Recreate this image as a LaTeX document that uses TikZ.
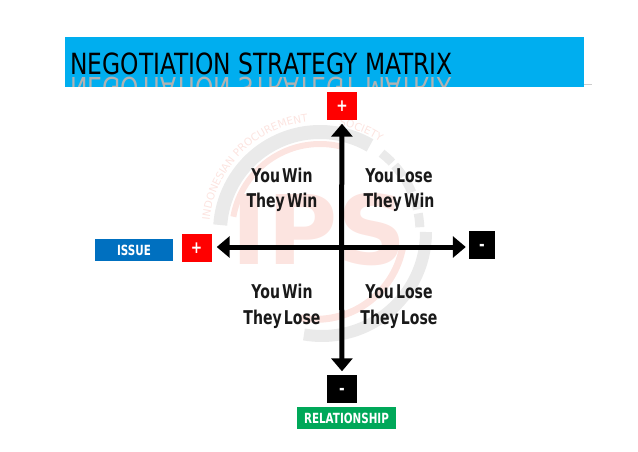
\documentclass[tikz,border=0pt]{standalone}
\usepackage{fontspec}
\usepackage{tikz}
\usetikzlibrary{arrows.meta,decorations.text}
\setmainfont{DejaVu Sans}
\definecolor{titleblue}{RGB}{0,174,239}
\definecolor{issueblue}{RGB}{0,112,192}
\definecolor{relgreen}{RGB}{0,168,89}
\definecolor{signred}{RGB}{255,0,0}
\definecolor{markgray}{RGB}{234,234,234}
\definecolor{markpink}{RGB}{252,228,224}
\newfontfamily\slim[FakeStretch=0.8]{DejaVu Sans}
\newfontfamily\tight[FakeStretch=0.74,WordSpace=0.45]{DejaVu Sans}
\begin{document}
\begin{tikzpicture}[x=1pt,y=-1pt]
      \tikzstyle{sign}=[minimum width=30pt,minimum height=28pt,inner sep=0pt,
			text=white,font=\slim\bfseries\fontsize{17}{17}\selectfont]
      \tikzstyle{minus}=[sign,fill=black,text height=11pt,text depth=0pt]
      \tikzstyle{caption}=[inner sep=0pt,text=white,
			   font=\tight\bfseries\fontsize{14}{14}\selectfont]
      \tikzstyle{quadrant}=[align=center,inner sep=0pt,text=black!90,
			    font=\tight\bfseries\fontsize{19}{25.5}\selectfont]
      \tikzstyle{axis}=[line width=5pt,-{Triangle[length=13pt,width=21pt]}]
      \useasboundingbox (0,0) rectangle (638,452);
      % watermark
      \node (markIPS) at (319,230) [inner sep=0pt,text=markpink,
	  font=\bfseries\fontsize{96}{96}\selectfont] {IPS};
      \coordinate (markCentre) at (320,232);
      \draw[markgray,line width=14pt] (markCentre) ++(184:100) arc (184:300:100);
      \draw[markpink,line width=6pt] (markCentre) ++(190:88) arc (190:285:88);
      \draw[markgray,line width=12pt] (markCentre) ++(0:106) arc (0:100:104);
      \draw[markpink,line width=7pt] (markCentre) ++(10:84) arc (10:100:88);
      \draw[markgray,line width=9pt,dash pattern=on 14pt off 4pt]
	  (markCentre) ++(-52:100) arc (-52:-2:100);
      \path[decorate,decoration={text along path,text align=left,
	  text={|\fontsize{10.5}{10.5}\selectfont\color{markpink}|INDONESIAN PROCUREMENT}}]
	  (markCentre) ++(186:111) arc (186:269:111);
      \path[decorate,decoration={text along path,text align=left,
	  text={|\fontsize{10.5}{10.5}\selectfont\color{markpink}|SOCIETY}}]
	  (markCentre) ++(280:108) arc (280:350:108);
      % title bar
      \draw[gray!40] (584,84) -- (592,84);
      \node (titlebar) at (324.5,62) [fill=titleblue,minimum width=519pt,
	  minimum height=50pt,inner sep=0pt] {};
      \begin{scope}
	\clip (65,37) rectangle (584,87);
	\node (mirror) at (261.5,88) [inner sep=0pt,yscale=-1,text=black!30,
	    font=\slim\fontsize{29.2}{29.2}\selectfont] {NEGOTIATION STRATEGY MATRIX};
      \end{scope}
      \node (title) at (261.5,64) [inner sep=0pt,
	  font=\slim\fontsize{29.2}{29.2}\selectfont] {NEGOTIATION STRATEGY MATRIX};
      % signs
      \coordinate (cross) at (341.5,247);
      \node (plusTop) at (342,106.5) [sign,fill=signred] {+};
      \node (plusLeft) at (196.5,248) [sign,fill=signred] {+};
      \node (minusRight) at (482,244.5) [minus,minimum width=26pt] {-};
      \node (minusBottom) at (342,388.5) [minus] {-};
      % captions
      \node (issue) at (134,250) [caption,fill=issueblue,minimum width=78pt,
	  minimum height=22pt] {ISSUE};
      \node (relationship) at (346.5,418) [caption,fill=relgreen,minimum width=99pt,
	  minimum height=22pt] {RELATIONSHIP};
      % axes
      \draw[axis,shorten >=3pt] (cross) -- (plusTop.south);
      \draw[axis,shorten >=3pt] (cross) -- (minusBottom.north);
      \draw[axis,shorten >=5pt] (cross) -- (cross -| plusLeft.east);
      \draw[axis,shorten >=3pt] (cross) -- (cross -| minusRight.west);
      % quadrants
      \node (winWin) at (282,190) [quadrant] {You Win\\They Win};
      \node (loseWin) at (399,190) [quadrant] {You Lose\\They Win};
      \node (winLose) at (282,306.5) [quadrant] {You Win\\They Lose};
      \node (loseLose) at (399,306.5) [quadrant] {You Lose\\They Lose};
  \end{tikzpicture}
\end{document}
